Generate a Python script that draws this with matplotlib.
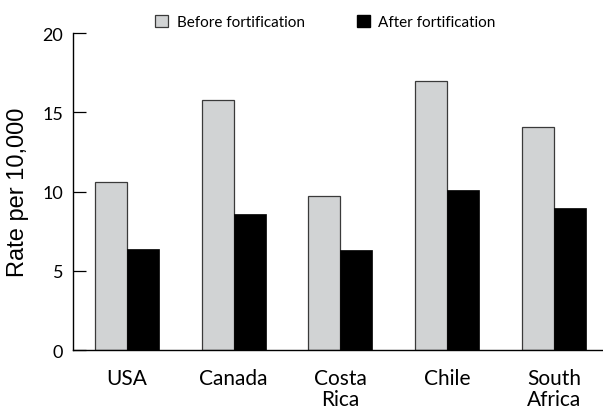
from __future__ import annotations

import matplotlib

matplotlib.use("Agg")
import matplotlib.pyplot as plt
from matplotlib.patches import Patch
import numpy as np


COUNTRIES = ["USA", "Canada", "Costa\nRica", "Chile", "South\nAfrica"]
BEFORE = [10.6, 15.8, 9.7, 17.0, 14.1]
AFTER = [6.4, 8.6, 6.3, 10.1, 9.0]
Y_TICKS = [0, 5, 10, 15, 20]
SERIES_LABELS = ["Before fortification", "After fortification"]

GRAY = "#d1d3d4"
BLACK = "#000000"
LABEL_FONT = "Lato"


def plot_chart(output_path: str) -> None:
    fig = plt.figure(figsize=(6.03, 4.10), dpi=100)
    ax = fig.add_axes([0.1212, 0.1432, 0.8788, 0.7737])

    x = np.arange(len(COUNTRIES))
    width = 0.30
    ax.bar(x - width / 2, BEFORE, width, color=GRAY, edgecolor="#3a3a3a", linewidth=0.9)
    ax.bar(x + width / 2, AFTER, width, color=BLACK, edgecolor=BLACK, linewidth=0.5)

    ax.set_xlim(-0.504, 4.46)
    ax.set_ylim(0, 20)

    for side in ("top", "right"):
        ax.spines[side].set_visible(False)
    for side in ("left", "bottom"):
        ax.spines[side].set_linewidth(1.0)

    ax.set_yticks(Y_TICKS)
    ax.set_yticklabels([str(v) for v in Y_TICKS], fontsize=13, family=LABEL_FONT)
    ax.tick_params(axis="y", direction="in", length=9.4, width=0.9, pad=7)

    ax.set_xticks(x)
    ax.set_xticklabels(COUNTRIES, fontsize=15, family=LABEL_FONT, linespacing=1.05)
    ax.tick_params(axis="x", length=0, pad=13)

    ax.set_ylabel("Rate per 10,000", fontsize=17, family="Liberation Sans", labelpad=10)

    handles = [
        Patch(facecolor=GRAY, edgecolor="#3a3a3a", linewidth=0.9),
        Patch(facecolor=BLACK, edgecolor=BLACK),
    ]
    fig.legend(
        handles,
        SERIES_LABELS,
        loc="center left",
        bbox_to_anchor=(0.245, 0.944),
        ncol=2,
        frameon=False,
        prop={"family": LABEL_FONT, "size": 11},
        handlelength=0.85,
        handleheight=0.9,
        handletextpad=0.55,
        columnspacing=3.4,
        borderpad=0,
    )

    fig.savefig(output_path, dpi=100)
    plt.close(fig)


def main() -> None:
    plot_chart("out.png")


if __name__ == "__main__":
    main()
